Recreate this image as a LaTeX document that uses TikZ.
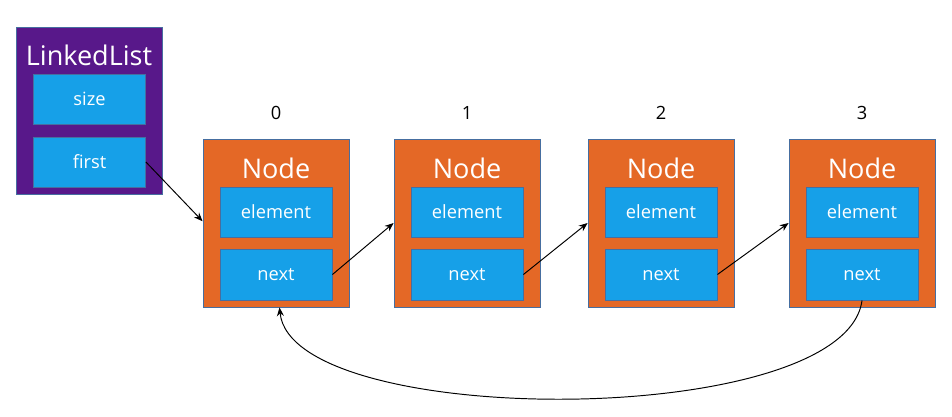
\documentclass[tikz,border=0pt]{standalone}
\usepackage{fontspec}
\setmainfont{Open Sans}
\usetikzlibrary{arrows.meta}
\definecolor{llpurple}{RGB}{88,24,138}
\definecolor{ndorange}{RGB}{228,104,38}
\definecolor{fldblue}{RGB}{22,160,232}
\definecolor{edgeblue}{RGB}{70,110,160}
\tikzset{
  outerbox/.style={draw=edgeblue, line width=0.5pt, minimum width=2.92cm, inner sep=0pt},
  fieldbox/.style={draw=edgeblue, line width=0.5pt, fill=fldblue, minimum width=2.24cm, minimum height=1.0cm, inner sep=0pt, text=white, font=\fontsize{10.4}{12}\selectfont},
  titletext/.style={text=white, font=\fontsize{15.4}{18}\selectfont, inner sep=0pt},
  idxtext/.style={font=\fontsize{10.4}{12}\selectfont, inner sep=0pt},
  ptr/.style={draw=black, line width=0.55pt, -{Stealth[length=5pt,width=4pt]}}
}
\begin{document}
\begin{tikzpicture}[x=0.02cm,y=-0.02cm]
\useasboundingbox[fill=white] (0,0) rectangle (952,416);
% LinkedList
\node[outerbox, fill=llpurple, minimum height=3.34cm] (ll) at (89,110.5) {};
\node[titletext] (lltitle) at (89,55) {LinkedList};
\node[fieldbox] (size) at (89.5,99) {size};
\node[fieldbox] (first) at (89.5,162) {first};
% Nodes
\foreach \i/\cx in {0/276,1/467,2/661,3/862}{
  \node[outerbox, fill=ndorange, minimum height=3.36cm] (n\i) at (\cx,223) {};
  \node[titletext] (t\i) at (\cx,168) {Node};
  \node[fieldbox] (e\i) at (\cx,212) {element};
  \node[fieldbox, minimum height=1.02cm] (x\i) at (\cx,274.5) {next};
  \node[idxtext] (idx\i) at (\cx,113) {\i};
}
% pointers
\draw[ptr] (first.east) -- ([yshift=1pt]n0.west);
\draw[ptr] (x0.east) -- (n1.west);
\draw[ptr] (x1.east) -- (n2.west);
\draw[ptr] (x2.east) -- (n3.west);
\draw[ptr] (x3.south) .. controls (845,430) and (292,430) .. ([xshift=2pt]n0.south);
\end{tikzpicture}
\end{document}
